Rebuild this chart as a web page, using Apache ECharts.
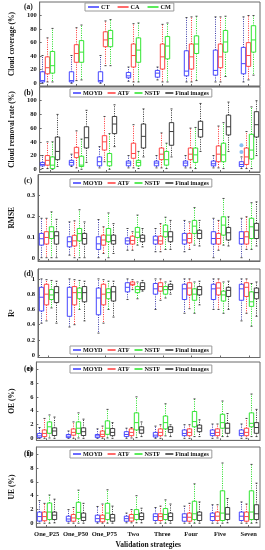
<!DOCTYPE html>
<html><head><meta charset="utf-8">
<script src="https://cdn.jsdelivr.net/npm/echarts@6/dist/echarts.min.js"></script>
<style>html,body{margin:0;padding:0;background:#fff}#c{width:265px;height:550px}</style>
</head><body><div id="c"></div>
<script>
// ---------- categories & ticks ----------
const categories = ['One_P25','One_P50','One_P75','Two','Three','Four','Five','Seven'];
const groupPositions = [1,2,3,4,5,6,7,8];
const percentTicks = [0,20,40,60,80,100];
const rmseTicks = [0,0.1,0.2,0.3];
const r2Ticks = [0,0.2,0.4,0.6,0.8,1];
const errTicks = [0,2,4,6,8,10];

// each row: [min, Q1, median, Q3, max]
// (a) Cloud coverage (%)
const coverageCT = [[0,2,4,17,41],[0,2,4,17,41],[0,2,4,17,41],[3,8,11,16,24],[5,9,15,19,24],[2,11,18,48,97],[2,12,19,49,98],[2,14,29,53,98]];
const coverageCA = [[2,14,23,39,67],[4,31,44,57,82],[26,54,64,76,92],[2,24,41,58,88],[2,21,39,58,87],[2,21,39,58,98],[2,23,39,58,98],[5,25,41,60,100]];
const coverageCM = [[2,15,26,47,81],[5,31,46,63,86],[26,54,66,78,94],[2,31,49,67,89],[2,36,55,69,89],[4,44,58,70,99],[10,46,61,78,99],[12,46,64,85,100]];

// (b) Cloud removal rate (%)
const removalMOYD = [[1,5,7,10,20],[4,6,10,13,22],[2,5,11,18,33],[2,5,9,12,20],[2,5,9,12,20],[2,5,9,12,20],[2,5,8,12,20],[1,4,7,11,18]];
const removalATF = [[1,6,13,20,40],[2,17,24,32,56],[11,28,40,49,77],[2,16,23,38,65],[2,14,22,31,53],[2,14,22,31,60],[2,11,22,34,63],[1,7,18,31,55]];
const removalNSTF = [[0,1,6,18,40],[0,4,6,19,44],[0,5,11,23,52],[1,5,10,13,26],[1,6,14,26,38],[1,10,21,31,61],[1,11,21,38,68],[1,15,28,51,91]];
const removalFinal = [[4,14,26,47,80],[10,31,46,62,86],[33,52,66,77,94],[18,31,48,66,88],[18,35,55,68,88],[26,47,58,70,96],[26,50,62,79,98],[20,47,65,84,100]];
const removalMOYDOutliers = [[8,35],[8,25]];

// (c) RMSE
const rmseMOYD = [[0.005,0.064,0.094,0.119,0.19],[0.017,0.056,0.08,0.103,0.173],[0.005,0.044,0.07,0.103,0.184],[0.04,0.069,0.084,0.098,0.142],[0.033,0.069,0.088,0.106,0.142],[0.033,0.069,0.088,0.119,0.18],[0.005,0.069,0.095,0.127,0.19],[0.005,0.069,0.095,0.127,0.19]];
const rmseATF = [[0.005,0.069,0.1,0.127,0.19],[0.005,0.06,0.084,0.11,0.178],[0.025,0.064,0.088,0.111,0.15],[0.04,0.069,0.086,0.106,0.127],[0.033,0.069,0.084,0.106,0.165],[0.044,0.075,0.095,0.119,0.173],[0.04,0.069,0.095,0.119,0.18],[0.044,0.069,0.103,0.127,0.197]];
const rmseNSTF = [[0.005,0.095,0.127,0.15,0.22],[0.005,0.084,0.118,0.142,0.23],[0.005,0.08,0.111,0.142,0.215],[0.064,0.1,0.125,0.147,0.205],[0.044,0.103,0.127,0.158,0.195],[0.064,0.119,0.153,0.18,0.24],[0.064,0.111,0.158,0.197,0.283],[0.044,0.095,0.15,0.19,0.263]];
const rmseFinal = [[0.005,0.069,0.108,0.127,0.185],[0.005,0.069,0.095,0.119,0.173],[0.025,0.069,0.085,0.111,0.165],[0.056,0.08,0.096,0.111,0.142],[0.044,0.08,0.103,0.127,0.18],[0.06,0.095,0.119,0.134,0.18],[0.06,0.088,0.122,0.147,0.197],[0.06,0.095,0.134,0.166,0.267]];

// (d) R2
const r2MOYD = [[0.42,0.58,0.76,0.89,1.0],[0.37,0.51,0.76,0.89,1.0],[0.29,0.53,0.75,0.88,1.0],[0.73,0.83,0.89,0.95,1.0],[0.6,0.8,0.87,0.94,1.0],[0.55,0.73,0.87,0.93,1.0],[0.6,0.73,0.87,0.93,1.0],[0.45,0.72,0.87,0.93,1.0]];
const r2ATF = [[0.45,0.66,0.8,0.93,0.99],[0.4,0.66,0.82,0.9,0.99],[0.42,0.66,0.8,0.93,0.99],[0.86,0.92,0.93,0.96,0.99],[0.72,0.84,0.9,0.95,1.0],[0.61,0.79,0.88,0.95,1.0],[0.6,0.79,0.88,0.95,1.0],[0.55,0.77,0.89,0.95,1.0]];
const r2NSTF = [[0.62,0.73,0.79,0.86,0.98],[0.6,0.74,0.82,0.88,0.98],[0.6,0.74,0.82,0.87,0.97],[0.74,0.82,0.86,0.9,0.96],[0.75,0.8,0.86,0.9,0.96],[0.55,0.72,0.8,0.87,0.96],[0.55,0.71,0.79,0.84,0.96],[0.38,0.64,0.7,0.83,0.94]];
const r2Final = [[0.42,0.69,0.82,0.9,0.97],[0.45,0.7,0.82,0.9,0.97],[0.5,0.71,0.83,0.9,0.97],[0.84,0.86,0.9,0.95,0.98],[0.8,0.86,0.9,0.93,0.97],[0.66,0.79,0.86,0.9,0.97],[0.6,0.77,0.85,0.89,0.97],[0.51,0.74,0.82,0.88,0.96]];

// (e) OE (%)
const oeMOYD = [[0.05,0.15,0.4,0.75,1.6],[0.05,0.15,0.35,0.6,1.1],[0.05,0.15,0.4,0.6,1.4],[0.05,0.3,0.6,1.0,1.5],[0.05,0.24,0.5,0.9,1.8],[0.05,0.43,0.75,1.25,2.0],[0.05,0.43,0.75,1.25,2.1],[0.05,0.43,0.75,1.25,2.1]];
const oeATF = [[0.05,0.3,0.75,1.25,2.9],[0.05,0.5,0.9,1.4,2.4],[0.05,0.3,0.62,1.1,1.8],[0.1,0.43,0.9,1.4,1.6],[0.05,0.43,0.9,1.4,2.0],[0.05,0.43,0.9,1.4,2.0],[0.1,0.43,0.9,1.4,2.1],[0.05,0.43,0.9,1.5,2.9]];
const oeNSTF = [[0.1,0.77,1.7,2.4,3.4],[0.1,0.75,1.5,2.4,3.7],[0.1,0.62,1.5,2.55,4.2],[0.15,1.25,2.3,3.7,6.0],[0.4,1.4,2.3,3.25,5.0],[0.3,1.7,2.45,3.9,5.7],[0.3,1.5,2.3,3.5,5.4],[0.3,1.7,2.2,3.7,6.4]];
const oeFinal = [[0.05,0.45,1.1,1.55,3.1],[0.05,0.45,1.0,1.55,2.8],[0.05,0.43,0.9,1.45,2.3],[0.3,0.77,1.25,1.7,2.4],[0.3,0.9,1.3,1.7,2.0],[0.3,1.0,1.5,1.95,2.7],[0.3,0.77,1.5,2.2,3.6],[0.3,0.77,1.6,2.3,4.2]];

// (f) UE (%)
const ueMOYD = [[0.05,0.35,1.0,1.65,3.3],[0.05,0.33,0.65,1.05,2.0],[0.05,0.25,0.7,1.2,2.45],[0.1,0.33,0.7,1.05,1.5],[0.05,0.43,1.0,1.4,2.3],[0.05,0.33,0.9,1.4,2.5],[0.05,0.43,1.0,1.5,2.7],[0.05,0.43,1.05,1.65,3.1]];
const ueATF = [[0.05,0.4,1.0,1.65,2.9],[0.05,0.33,0.8,1.3,2.3],[0.05,0.25,0.7,1.2,2.8],[0.1,0.35,0.8,1.3,2.0],[0.05,0.43,1.0,1.4,2.5],[0.05,0.33,0.9,1.5,2.9],[0.05,0.43,1.05,1.65,2.7],[0.05,0.33,1.0,1.65,2.8]];
const ueNSTF = [[0.05,0.57,1.65,2.95,4.1],[0.05,0.7,1.6,3.05,4.8],[0.05,0.57,1.5,2.9,4.85],[0.1,0.57,1.3,2.0,4.0],[0.05,0.57,1.3,2.15,3.4],[0.05,0.57,1.4,3.2,5.7],[0.05,0.43,1.5,4.7,8.7],[0.05,0.57,1.65,4.7,8.5]];
const ueFinal = [[0.1,0.57,1.2,1.65,3.5],[0.05,0.43,0.9,1.5,2.9],[0.05,0.33,0.8,1.3,2.5],[0.1,0.57,1.0,1.5,2.2],[0.05,0.43,1.0,1.5,2.8],[0.05,0.43,1.2,1.65,3.1],[0.1,0.57,1.35,2.3,3.6],[0.1,0.57,1.4,2.7,5.8]];

// ---------- styling ----------
const FONT = 'Liberation Serif';
const BLUE = '#4646ff', RED = '#ff4646', GREEN = '#33e633', BLACK = '#3c3c3c';
const WHISK = {[BLUE]:'#3a3aa8', [RED]:'#ff3030', [GREEN]:'#22dd22', [BLACK]:'#333333'};
const PITCH = 5, BOX_W = 4.4;
const AXIS_COLOR = '#6a6a6a';

const panels = [
  {label:'(a)', yName:'Cloud coverage (%)', top:2, height:84, ymin:-4, ymax:120, ticks:percentTicks, xmin:0.736, xmax:8.40,
   legend:{left:85, top:3, gap:8, w:11}, series:[['CT',coverageCT,BLUE],['CA',coverageCA,RED],['CM',coverageCM,GREEN]], labelTop:3},
  {label:'(b)', yName:'Cloud removal rate (%)', top:87, height:85, ymin:-4, ymax:120, ticks:percentTicks, xmin:0.642, xmax:8.39,
   legend:{left:70, top:89, gap:5, w:8}, series:[['MOYD',removalMOYD,BLUE],['ATF',removalATF,RED],['NSTF',removalNSTF,GREEN],['Final images',removalFinal,BLACK]], labelTop:89},
  {label:'(c)', yName:'RMSE', top:174.6, height:86.3, ymin:-0.01, ymax:0.395, ticks:rmseTicks, xmin:0.642, xmax:8.39,
   legend:{left:70, top:179, gap:5, w:8}, series:[['MOYD',rmseMOYD,BLUE],['ATF',rmseATF,RED],['NSTF',rmseNSTF,GREEN],['Final images',rmseFinal,BLACK]], labelTop:177},
  {label:'(d)', yName:'R\u00b2', top:269, height:88.5, ymin:-0.03, ymax:1.13, ticks:r2Ticks, xmin:0.642, xmax:8.39,
   legend:{left:70, top:346, gap:5, w:8}, series:[['MOYD',r2MOYD,BLUE],['ATF',r2ATF,RED],['NSTF',r2NSTF,GREEN],['Final images',r2Final,BLACK]], labelTop:270},
  {label:'(e)', yName:'OE (%)', top:362, height:78.4, ymin:-0.25, ymax:11, ticks:errTicks, xmin:0.642, xmax:8.39,
   legend:{left:70, top:365, gap:5, w:8}, series:[['MOYD',oeMOYD,BLUE],['ATF',oeATF,RED],['NSTF',oeNSTF,GREEN],['Final images',oeFinal,BLACK]], labelTop:365},
  {label:'(f)', yName:'UE (%)', top:447, height:80.5, ymin:-0.5, ymax:11, ticks:errTicks, xmin:0.642, xmax:8.39,
   legend:{left:70, top:450, gap:5, w:8}, series:[['MOYD',ueMOYD,BLUE],['ATF',ueATF,RED],['NSTF',ueNSTF,GREEN],['Final images',ueFinal,BLACK]], labelTop:450}
];

function boxRenderer(k, n, color) {
  const wc = WHISK[color];
  return function (params, api) {
    const x = api.value(0);
    const off = (k - (n - 1) / 2) * PITCH;
    const base = api.coord([x, api.value(3)]);
    const cx = Math.round(base[0] + off) + 0.5;
    const y = (i) => api.coord([x, api.value(i)])[1];
    const yMin = y(1), yQ1 = y(2), yMed = y(3), yQ3 = y(4), yMax = y(5);
    const hw = BOX_W / 2;
    const dash = {stroke: wc, lineWidth: 1, lineDash: [1, 1.3]};
    return {type:'group', children:[
      {type:'line', shape:{x1:cx, y1:yQ3, x2:cx, y2:yMax}, style:dash},
      {type:'line', shape:{x1:cx, y1:yQ1, x2:cx, y2:yMin}, style:dash},
      {type:'line', shape:{x1:cx-1, y1:yMax, x2:cx+1, y2:yMax}, style:{stroke:'#444', lineWidth:1}},
      {type:'line', shape:{x1:cx-1, y1:yMin, x2:cx+1, y2:yMin}, style:{stroke:'#444', lineWidth:1}},
      {type:'rect', shape:{x:cx-hw, y:yQ3, width:2*hw, height:Math.max(yQ1-yQ3, 1)}, style:{fill:'#fff', stroke:color, lineWidth:1}},
      {type:'line', shape:{x1:cx-hw, y1:yMed, x2:cx+hw, y2:yMed}, style:{stroke:color, lineWidth:1}}
    ]};
  };
}

const grid = [], xAxis = [], yAxis = [], series = [], legend = [], title = [];
panels.forEach((p, gi) => {
  const last = gi === panels.length - 1;
  grid.push({left:22, width:238, top:p.top, height:p.height, show:true, borderColor:AXIS_COLOR, borderWidth:1, backgroundColor:'#fff'});
  xAxis.push({
    type:'value', gridIndex:gi, min:p.xmin, max:p.xmax,
    axisLine:{show:true, onZero:false, lineStyle:{color:AXIS_COLOR}},
    axisTick:{show:true, inside:true, length:2, customValues:groupPositions, lineStyle:{color:AXIS_COLOR}},
    splitLine:{show:false},
    axisLabel: last ? {show:true, customValues:groupPositions, margin:4, hideOverlap:false,
      formatter:(v)=>categories[Math.round(v)-1], fontFamily:FONT, fontWeight:'bold', fontSize:6.5, color:'#111'} : {show:false},
    name: last ? 'Validation strategies' : '', nameLocation:'middle', nameGap:14,
    nameTextStyle:{fontFamily:FONT, fontWeight:'bold', fontSize:7.5, color:'#111'}
  });
  yAxis.push({
    type:'value', gridIndex:gi, min:p.ymin, max:p.ymax,
    axisLine:{show:true, onZero:false, lineStyle:{color:AXIS_COLOR}},
    axisTick:{show:true, inside:true, length:2, customValues:p.ticks, lineStyle:{color:AXIS_COLOR}},
    splitLine:{show:false},
    axisLabel:{customValues:p.ticks, margin:3, fontFamily:FONT, fontWeight:'bold', fontSize:6.5, color:'#111'},
    name:p.yName, nameLocation:'middle', nameGap:13, nameRotate:90,
    nameTextStyle:{fontFamily:FONT, fontWeight:'bold', fontSize:7.5, color:'#111'}
  });
  const n = p.series.length;
  p.series.forEach(([name, values, color], k) => {
    series.push({
      type:'custom', name, xAxisIndex:gi, yAxisIndex:gi,
      itemStyle:{color}, renderItem:boxRenderer(k, n, color),
      encode:{x:0, y:[1,2,3,4,5]},
      data: values.map((v, i) => [groupPositions[i]].concat(v)),
      silent:true, animation:false
    });
  });
  legend.push({
    left:p.legend.left, top:p.legend.top, orient:'horizontal', selectedMode:false,
    data:p.series.map(s => ({name:s[0], icon:'rect'})),
    itemWidth:p.legend.w, itemHeight:1.6, itemGap:p.legend.gap,
    borderColor:'#999', borderWidth:1, padding:[1,3], backgroundColor:'#fff',
    textStyle:{fontFamily:FONT, fontWeight:'bold', fontSize:6.2, color:'#111', padding:[0,0,0,-3]}
  });
  title.push({text:p.label, left:24, top:p.labelTop, padding:0,
    textStyle:{fontFamily:FONT, fontWeight:'bold', fontSize:7.5, color:'#111'}});
});

// outliers in panel (b)
series.push({type:'scatter', name:'outlier', xAxisIndex:1, yAxisIndex:1, data:removalMOYDOutliers,
  symbol:'circle', symbolSize:4, symbolOffset:[-1.5*PITCH, 0], itemStyle:{color:'#6aaef0'}, silent:true, animation:false});

const chart = echarts.init(document.getElementById('c'), null, {renderer:'canvas'});
chart.setOption({animation:false, backgroundColor:'#fff', grid, xAxis, yAxis, series, legend, title});
</script></body></html>
